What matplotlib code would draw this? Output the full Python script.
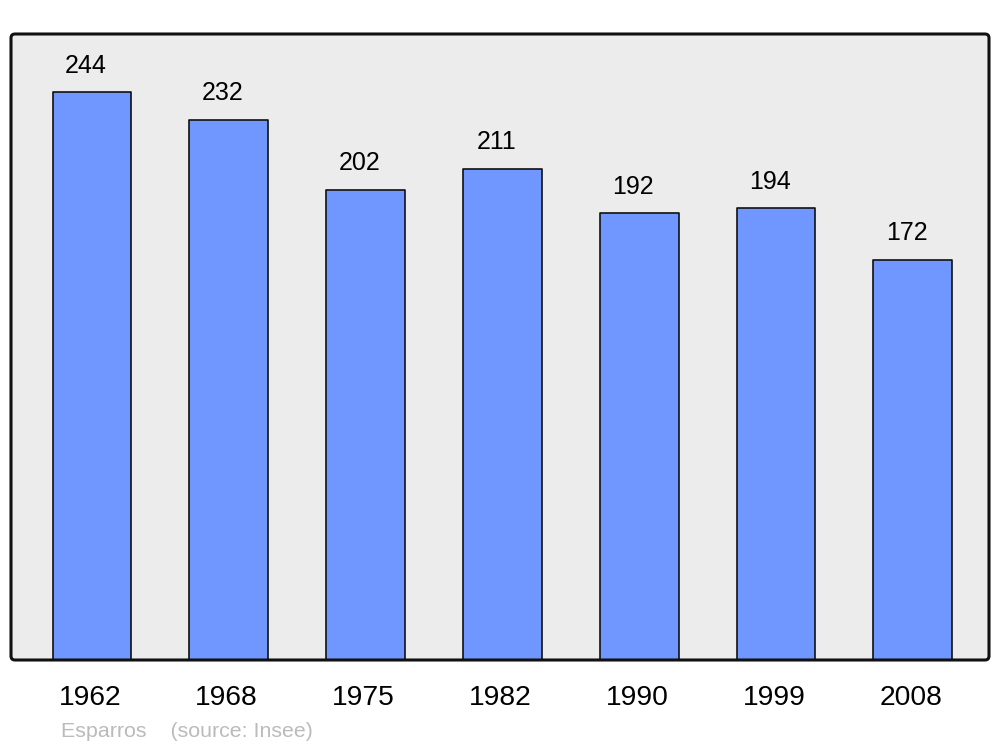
import matplotlib
matplotlib.use("Agg")
import matplotlib.pyplot as plt
import matplotlib.patches as mpatches

years = ["1962", "1968", "1975", "1982", "1990", "1999", "2008"]
population = [244, 232, 202, 211, 192, 194, 172]

plt.rcParams['font.family'] = ['Liberation Sans', 'DejaVu Sans']

fig = plt.figure(figsize=(10, 7.47), dpi=100)
ax = fig.add_axes([0.011, 87 / 747, 0.978, 626 / 747])
ax.set_zorder(1)

# rounded background + frame in pixel coords
bg = mpatches.FancyBboxPatch((11, 87), 978, 626, boxstyle="round,pad=0,rounding_size=4",
                             transform=None, facecolor="#ececec", edgecolor="none", zorder=-1)
frame = mpatches.FancyBboxPatch((11, 87), 978, 626, boxstyle="round,pad=0,rounding_size=4",
                                transform=None, facecolor="none", edgecolor="#111111",
                                linewidth=2.2, zorder=5)
fig.patches.append(bg)
fig.patches.append(frame)
ax.set_facecolor("none")
for s in ax.spines.values():
    s.set_visible(False)

x = list(range(len(years)))
bars = ax.bar(x, population, width=0.577, color="#7097ff", edgecolor="#111111",
              linewidth=1.2, joinstyle="round")

for xi, v in zip(x, population):
    ax.annotate(str(v), (xi, v), xytext=(-4.5, 14), textcoords="offset points",
                ha="center", va="baseline", fontsize=18, color="black")

ax.set_xlim(-0.592, 6.557)
ax.set_ylim(0, 268.9)
ax.set_xticks([xi - 0.015 for xi in x])
ax.set_xticklabels(years, fontsize=20.3)
ax.tick_params(axis="x", length=0, pad=18)
ax.set_yticks([])

fig.text(0.061, 10 / 747, "Esparros    (source: Insee)", fontsize=15.4, color="#bbbbbb",
         ha="left", va="baseline")

fig.savefig("out.png", dpi=100)
